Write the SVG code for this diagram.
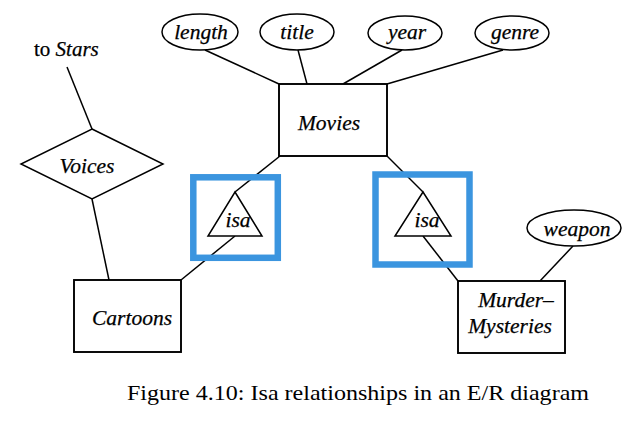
<svg xmlns="http://www.w3.org/2000/svg" width="638" height="432" viewBox="0 0 638 432">
<style>
.ln{stroke:#000;stroke-width:1.5;fill:none}
.box{stroke:#000;stroke-width:1.9;fill:#fff}
.sh{stroke:#000;stroke-width:1.5;fill:#fff}
.hl{stroke:#3b95df;stroke-width:6.5;fill:none}
.lb{font-family:"Liberation Serif","Times New Roman",serif;font-style:italic;font-size:21.5px;text-anchor:middle;fill:#000;stroke:#000;stroke-width:0.25}
.cap{font-family:"Liberation Serif","Times New Roman",serif;font-size:21px;fill:#000}
</style>
<rect width="638" height="432" fill="#fff"/>
<g id="connectors">
<line class="ln" x1="205" y1="50" x2="279" y2="84"/>
<line class="ln" x1="298" y1="50" x2="307" y2="84"/>
<line class="ln" x1="402" y1="50" x2="343" y2="84"/>
<line class="ln" x1="503" y1="50" x2="387" y2="84"/>
<line class="ln" x1="67" y1="67" x2="92" y2="129"/>
<line class="ln" x1="92" y1="199" x2="109" y2="280"/>
<line class="ln" x1="280" y1="156" x2="235" y2="192"/>
<line class="ln" x1="235" y1="236" x2="181" y2="280"/>
<line class="ln" x1="387" y1="156" x2="423" y2="192"/>
<line class="ln" x1="423" y1="236" x2="458" y2="281"/>
<line class="ln" x1="573" y1="246" x2="540" y2="281"/>
</g>
<g id="length"><ellipse class="sh" cx="200" cy="32" rx="38" ry="18"/><text class="lb" x="201" y="39">length</text></g>
<g id="title"><ellipse class="sh" cx="297" cy="32" rx="37" ry="18"/><text class="lb" x="297" y="39">title</text></g>
<g id="year"><ellipse class="sh" cx="405" cy="33" rx="37" ry="17"/><text class="lb" x="407" y="39">year</text></g>
<g id="genre"><ellipse class="sh" cx="512" cy="33" rx="37" ry="17"/><text class="lb" x="515" y="39">genre</text></g>
<g id="movies"><rect class="box" x="279" y="84" width="108" height="72"/><text class="lb" x="329" y="130">Movies</text></g>
<g id="stars"><text x="34" y="56" style="font-family:'Liberation Serif','Times New Roman',serif;font-size:21px;stroke:#000;stroke-width:0.25">to <tspan font-style="italic">Stars</tspan></text></g>
<g id="voices"><polygon class="sh" points="92,129 163,164 92,199 21,164"/><text class="lb" x="87" y="173">Voices</text></g>
<g id="isa1"><polygon class="sh" points="235,192 262,236 208,236"/><text class="lb" x="238" y="227">isa</text><rect class="hl" x="193.3" y="177.3" width="84.5" height="80.5"/></g>
<g id="isa2"><polygon class="sh" points="423,192 451,236 395,236"/><text class="lb" x="427" y="227">isa</text><rect class="hl" x="375.5" y="174.5" width="94" height="90"/></g>
<g id="cartoons"><rect class="box" x="74" y="280" width="107" height="72"/><text class="lb" x="132" y="325">Cartoons</text></g>
<g id="weapon"><ellipse class="sh" cx="574" cy="228" rx="47" ry="18"/><text class="lb" x="577" y="236">weapon</text></g>
<g id="mm"><rect class="box" x="458" y="281" width="107" height="72"/><text class="lb" x="516" y="307">Murder–</text><text class="lb" x="510" y="333">Mysteries</text></g>
<text class="cap" x="127" y="400" textLength="462" lengthAdjust="spacingAndGlyphs">Figure 4.10: Isa relationships in an E/R diagram</text>
</svg>
